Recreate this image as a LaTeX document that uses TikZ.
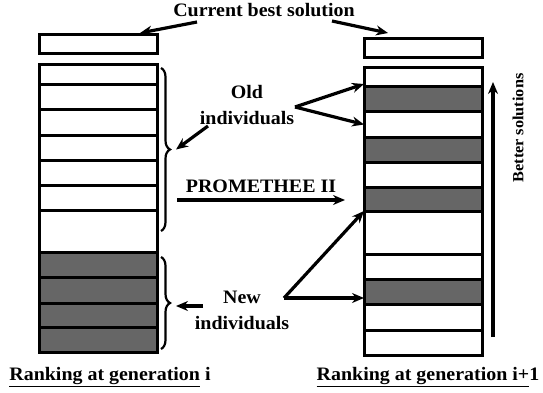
\documentclass[tikz,border=0pt]{standalone}
\usepackage{fontspec}
\setmainfont{Liberation Serif}[FakeStretch=1.05]
\usetikzlibrary{arrows.meta,decorations.pathreplacing,calc}
\definecolor{cellgray}{RGB}{102,102,102}
\begin{document}
\begin{tikzpicture}[x=1pt,y=-1pt,
  cell/.style={draw, line width=3pt, minimum width=118pt, inner sep=0pt, outer sep=0pt},
  lbl/.style={font=\bfseries\fontsize{19}{26}\selectfont, align=center, inner sep=0pt},
  arr/.style={line width=3.2pt, -{Stealth[length=12pt,width=10pt]}},
  brc/.style={decorate, decoration={brace, amplitude=9pt}, line width=2.2pt}]
\useasboundingbox (0,0) rectangle (543,393);

% left column
\foreach \n/\t/\b/\s in {0/35/54/white, 1/65/85/white, 2/85/110/white, 3/110/135/white,
  4/135/160/white, 5/160/185/white, 6/185/210/white, 7/210/252/white,
  8/252/277/cellgray, 9/277/303/cellgray, 10/303/327/cellgray, 11/327/352/cellgray}
  \node[cell, fill=\s, minimum height={\b-\t}] (L\n) at (98,{(\t+\b)/2}) {};

% right column
\foreach \n/\t/\b/\s in {0/39/58/white, 1/68/87/white, 2/87/112/cellgray, 3/112/137/white,
  4/137/162/cellgray, 5/162/187/white, 6/187/211/cellgray, 7/211/254/white,
  8/254/279/white, 9/279/304/cellgray, 10/304/330/white, 11/330/355/white}
  \node[cell, fill=\s, minimum height={\b-\t}] (R\n) at (423,{(\t+\b)/2}) {};

% braces
\coordinate (ubtop) at ([xshift=4pt,yshift=-3pt]L1.north east);
\coordinate (ubbot) at ([xshift=4pt]L7.east);
\draw[brc] (ubtop) -- (ubbot);
\coordinate (lbtop) at ([xshift=4pt,yshift=-5pt]L8.north east);
\coordinate (lbbot) at ([xshift=4pt,yshift=3pt]L11.south east);
\draw[brc] (lbtop) -- (lbbot);
\coordinate (ubt) at ($(ubtop)!0.5!(ubbot)+(15,0)$);
\coordinate (lbt) at ($(lbtop)!0.5!(lbbot)+(15,3)$);

% labels
\node[lbl, anchor=base] (CB) at (264,17) {Current best solution};
\node[lbl] (OI) at (247,105) {Old\\individuals};
\node[lbl] (PR) at (261,186) {PROMETHEE II};
\node[lbl] (NI) at (242,310) {New\\individuals};
\node[lbl, font=\bfseries\fontsize{15.5}{18}\selectfont, rotate=90] (BS) at (518,128) {Better solutions};
\node[lbl] (RL) at (110,377) {\underline{Ranking at generation} i};
\node[lbl] (RR) at (428,377) {\underline{Ranking at generation i+}1};

% arrows
\coordinate (cbl) at (197,22);
\coordinate (cbr) at (332,21);
\draw[arr] (cbl) -- ([xshift=-17pt,yshift=2pt]L0.north east);
\draw[arr] (cbr) -- ([xshift=24pt,yshift=6pt]R0.north west);

\coordinate (oa) at (208,126);
\draw[arr] (oa) -- (ubt);
\coordinate (oj) at (295,107);
\draw[arr] (oj) -- ([yshift=3pt]R1.south west);
\draw[arr] (oj) -- (R3.west);

\coordinate (pa) at (177,200);
\draw[arr] (pa) -- ([xshift=-19pt]R6.west |- pa);

\coordinate (na) at (203,306);
\draw[arr] (na) -- (lbt |- na);
\coordinate (nj) at (284,298);
\draw[arr] (nj) -- (R6.south west);
\draw[arr] (nj) -- (R9.west |- nj);

\coordinate (bb) at (493,337);
\coordinate (bt) at (493,82);
\draw[arr] (bb) -- (bt);
\end{tikzpicture}
\end{document}
